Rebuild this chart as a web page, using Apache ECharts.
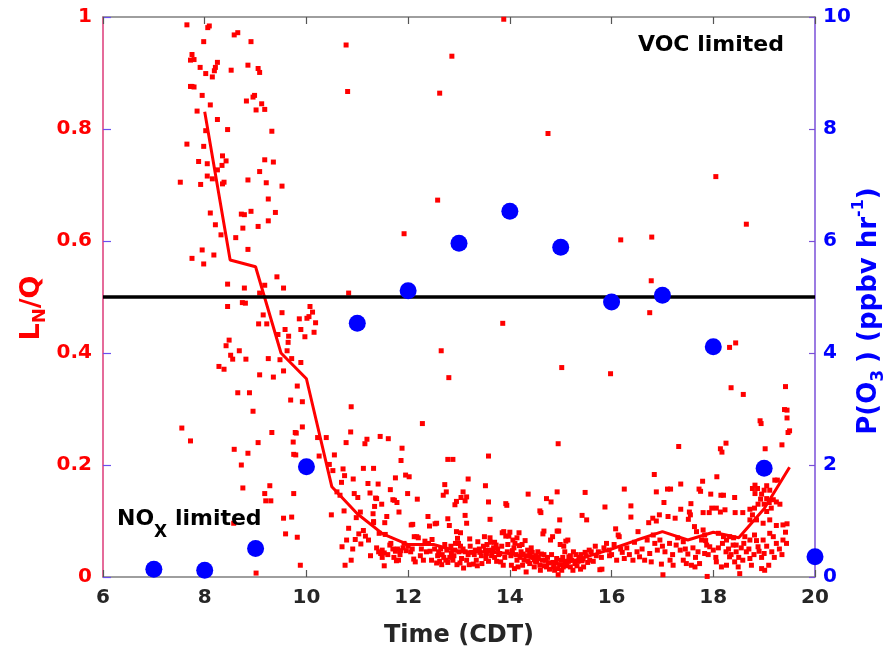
<!DOCTYPE html>
<html>
<head>
<meta charset="utf-8">
<script src="https://cdn.jsdelivr.net/npm/echarts@6/dist/echarts.min.js"></script>
<style>html,body{margin:0;padding:0;background:#fff}#c{width:893px;height:659px}</style>
</head>
<body>
<div id="c"></div>
<script>
// ---- Data ----
const timeTicks = [6, 8, 10, 12, 14, 16, 18, 20];
const lnqTicks = [0, 0.2, 0.4, 0.6, 0.8, 1];
const po3Ticks = [0, 2, 4, 6, 8, 10];

// hourly P(O3), ppbv/hr (right axis)
const po3Hours = [7, 8, 9, 10, 11, 12, 13, 14, 15, 16, 17, 18, 19, 20];
const po3Values = [0.14, 0.12, 0.51, 1.97, 4.53, 5.11, 5.96, 6.53, 5.89, 4.91, 5.03, 4.11, 1.94, 0.36];

// half-hourly mean LN/Q (left axis)
const meanHours = [8, 8.5, 9, 9.5, 10, 10.5, 11, 11.5, 12, 12.5, 13, 13.5, 14, 14.5, 15, 15.5, 16, 16.5, 17, 17.5, 18, 18.5, 19, 19.5];
const meanValues = [0.831, 0.566, 0.554, 0.400, 0.354, 0.161, 0.113, 0.077, 0.058, 0.058, 0.045, 0.045, 0.042, 0.033, 0.022, 0.036, 0.050, 0.066, 0.081, 0.066, 0.080, 0.070, 0.122, 0.196];

// individual LN/Q observations [time, LN/Q]
const lnqEarly = [
[7.65,0.986],[8.06,0.981],[8.09,0.984],[8.58,0.968],[8.65,0.972],[7.98,0.956],[8.91,0.956],[7.75,0.933],[7.72,0.923],[7.79,0.924],
[8.25,0.919],[7.91,0.910],[8.21,0.910],[8.19,0.904],[8.02,0.899],[8.15,0.893],[8.52,0.905],[8.85,0.914],[9.05,0.908],[9.08,0.901],
[7.72,0.876],[7.75,0.876],[7.79,0.875],[7.95,0.860],[8.11,0.843],[7.85,0.832],[8.82,0.850],[8.95,0.857],[8.98,0.860],[9.12,0.845],
[9.01,0.834],[9.18,0.835],[8.25,0.817],[8.45,0.799],[8.02,0.797],[9.32,0.796],[7.65,0.773],[7.98,0.769],[8.35,0.752],[8.42,0.743],
[8.34,0.735],[7.88,0.742],[8.05,0.738],[8.25,0.727],[9.18,0.745],[9.35,0.741],[9.08,0.724],[8.05,0.716],[8.15,0.711],[7.52,0.705],
[7.92,0.701],[8.35,0.702],[8.38,0.705],[8.85,0.709],[9.21,0.704],[9.52,0.698],[9.25,0.675],[8.11,0.650],[8.72,0.648],[8.78,0.647],
[8.91,0.653],[9.39,0.651],[8.21,0.629],[8.75,0.623],[9.25,0.636],[9.05,0.626],[8.32,0.611],[8.61,0.606],[7.95,0.584],[8.85,0.585],
[7.75,0.569],[8.18,0.575],[7.98,0.559],[9.42,0.536],[8.45,0.523],[8.78,0.516],[9.18,0.521],[9.55,0.516],[9.08,0.507],[8.45,0.483],
[8.74,0.490],[8.80,0.489],[10.07,0.483],[9.15,0.468],[9.52,0.472],[9.06,0.452],[9.22,0.452],[9.86,0.461],[10.01,0.462],[10.05,0.465],
[10.12,0.473],[10.18,0.454],[9.58,0.442],[9.89,0.442],[10.15,0.437],[9.44,0.433],[9.65,0.430],[9.97,0.429],[9.64,0.419],[8.48,0.423],
[8.42,0.413],[8.68,0.404],[8.51,0.396],[8.55,0.389],[8.81,0.389],[9.25,0.390],[9.62,0.404],[9.71,0.390],[9.48,0.388],[9.89,0.383],
[8.28,0.376],[8.38,0.371],[9.55,0.368],[9.08,0.361],[9.35,0.357],[9.82,0.341],[8.65,0.329],[8.88,0.329],[9.69,0.316],[9.92,0.313],
[8.95,0.296],[7.55,0.266],[7.72,0.243],[9.32,0.258],[9.92,0.268],[9.78,0.258],[9.80,0.257],[10.22,0.249],[10.39,0.249],[9.74,0.241],
[9.05,0.240],[8.58,0.228],[8.85,0.221],[9.75,0.219],[9.79,0.218],[10.25,0.216],[10.55,0.218],[8.72,0.200],[10.45,0.201],[10.52,0.190],
[10.72,0.193],[10.75,0.181],[10.69,0.169],[9.28,0.163],[8.75,0.159],[9.18,0.149],[9.75,0.149],[9.20,0.136],[9.30,0.136],[10.66,0.146],
[10.74,0.118],[10.49,0.111],[9.55,0.105],[9.71,0.107],[10.83,0.087],[8.57,0.096],[9.59,0.077],[9.82,0.071],[10.79,0.066],[10.70,0.054],
[9.88,0.021],[9.01,0.007],[10.76,0.021],[10.78,0.950],[10.81,0.867],[10.83,0.507]
];
const lnqMidday = [
[10.88,0.304],[12.28,0.274],[10.87,0.259],[10.78,0.240],[11.19,0.246],[11.15,0.238],[11.45,0.251],[11.61,0.247],[11.88,0.230],[11.86,0.208],
[12.78,0.210],[12.88,0.210],[13.58,0.216],[14.95,0.238],[11.12,0.194],[11.32,0.194],[10.92,0.175],[11.95,0.182],[12.02,0.179],[11.75,0.177],
[11.21,0.167],[11.41,0.166],[13.18,0.175],[12.72,0.165],[13.52,0.163],[14.93,0.152],[14.36,0.148],[15.48,0.151],[10.60,0.152],[10.94,0.149],
[11.01,0.142],[11.25,0.150],[11.65,0.156],[11.99,0.149],[11.36,0.141],[11.38,0.140],[11.70,0.138],[11.73,0.137],[12.18,0.139],[11.48,0.130],
[11.34,0.126],[11.78,0.133],[12.69,0.146],[12.75,0.152],[12.95,0.135],[12.92,0.129],[13.08,0.152],[13.04,0.142],[13.12,0.136],[13.15,0.143],
[13.58,0.134],[13.92,0.131],[13.94,0.128],[14.59,0.118],[14.61,0.115],[14.72,0.140],[14.81,0.134],[14.98,0.102],[15.42,0.110],[15.51,0.102],
[11.06,0.116],[11.31,0.113],[11.32,0.097],[11.58,0.108],[11.82,0.116],[10.98,0.106],[11.54,0.097],[12.39,0.108],[12.78,0.104],[13.12,0.110],
[13.61,0.103],[12.81,0.092],[13.15,0.096],[12.06,0.093],[12.09,0.094],[12.42,0.091],[12.53,0.095],[12.56,0.096],[11.12,0.083],[11.32,0.099],
[11.03,0.077],[10.96,0.067],[11.22,0.066],[11.16,0.073],[11.43,0.078],[11.55,0.076],[10.91,0.050],[11.07,0.059],[11.26,0.038],[10.88,0.030],
[11.38,0.052],[11.42,0.045],[11.46,0.042],[11.49,0.048],[11.53,0.043],[11.49,0.035],[11.53,0.020],[11.64,0.057],[11.70,0.050],[11.75,0.046],
[11.79,0.050],[11.85,0.047],[11.90,0.052],[11.96,0.047],[11.77,0.029],[11.81,0.030],[12.05,0.045],[12.11,0.032],[12.14,0.027],[12.12,0.072],
[12.17,0.072],[12.20,0.070],[12.24,0.038],[12.33,0.064],[12.43,0.046],[12.47,0.067],[12.56,0.025],[12.62,0.028],[12.67,0.040],[12.70,0.035],
[12.74,0.030],[12.78,0.026],[12.82,0.035],[12.85,0.042],[12.88,0.030],[12.97,0.069],[12.99,0.060],[12.93,0.060],[13.03,0.055],[13.00,0.045],
[12.95,0.081],[13.03,0.079],[13.21,0.068],[13.37,0.063],[13.50,0.072],[13.61,0.070],[13.55,0.058],[13.62,0.062],[13.70,0.062],[13.73,0.057],
[13.09,0.016],[13.20,0.022],[13.28,0.023],[13.34,0.030],[13.45,0.024],[13.53,0.033],[13.12,0.045],[13.25,0.044],[13.41,0.044],[13.54,0.042],
[13.66,0.045],[13.80,0.042],[13.85,0.079],[13.88,0.081],[14.00,0.080],[13.92,0.073],[13.98,0.073],[14.06,0.066],[14.14,0.070],[14.18,0.079],
[14.10,0.060],[14.30,0.065],[14.24,0.058],[14.19,0.056],[14.26,0.041],[14.33,0.038],[14.39,0.041],[14.46,0.035],[14.52,0.038],[14.62,0.041],
[14.67,0.040],[14.48,0.018],[14.53,0.027],[14.59,0.021],[14.72,0.018],[14.78,0.014],[14.88,0.012],[14.95,0.004],[13.82,0.027],[13.87,0.021],
[14.03,0.021],[14.09,0.015],[14.16,0.018],[14.25,0.021],[14.32,0.009],[14.39,0.024],[14.48,0.031],[14.65,0.077],[14.67,0.082],[14.80,0.066],
[14.84,0.072],[14.93,0.082],[14.96,0.082],[14.99,0.058],[15.06,0.055],[15.10,0.064],[15.14,0.066],[15.08,0.045],[15.19,0.038],[15.25,0.045],
[15.36,0.035],[15.42,0.029],[15.48,0.044],[15.05,0.018],[15.12,0.020],[15.19,0.018],[15.32,0.020],[15.39,0.014],[15.45,0.018],[15.53,0.026],
[12.60,0.045],[12.64,0.050],[12.72,0.058],[12.90,0.038],[12.96,0.022],[13.05,0.033],[13.15,0.030],[13.30,0.040],[13.40,0.050],[13.48,0.055],
[13.60,0.048],[13.70,0.035],[13.76,0.050],[13.95,0.045],[14.05,0.047],[14.12,0.040],[14.20,0.035],[14.35,0.048],[14.42,0.052],[14.55,0.045],
[14.70,0.030],[14.85,0.026],[14.92,0.033],[15.00,0.030],[15.15,0.028],[15.28,0.024],[15.40,0.040],
[12.86,0.930],[12.62,0.864],[13.88,0.996],[14.75,0.792],[12.58,0.673],[11.92,0.613],[13.86,0.453],[12.65,0.404],[12.80,0.356],[15.02,0.374]
];
const lnqDenseBand = [
[12.52,0.050],[12.58,0.038],[12.66,0.022],[12.76,0.048],[12.84,0.055],[12.92,0.048],[13.02,0.025],[13.08,0.050],[13.18,0.040],[13.22,0.055],
[13.32,0.048],[13.36,0.020],[13.44,0.038],[13.52,0.048],[13.58,0.028],[13.64,0.038],[13.68,0.052],[13.74,0.028],[13.78,0.040],[13.84,0.055],
[13.90,0.035],[13.96,0.058],[14.02,0.038],[14.08,0.052],[14.14,0.030],[14.22,0.045],[14.28,0.030],[14.36,0.028],[14.44,0.044],[14.50,0.028],
[14.56,0.035],[14.60,0.012],[14.64,0.030],[14.68,0.020],[14.74,0.035],[14.76,0.025],[14.82,0.040],[14.86,0.018],[14.90,0.025],[14.94,0.015],
[14.98,0.022],[15.02,0.012],[15.04,0.035],[15.08,0.028],[15.16,0.036],[15.22,0.030],[15.24,0.012],[15.30,0.040],[15.34,0.028],[15.44,0.032],
[15.50,0.038],[15.56,0.048],[15.64,0.028],[15.68,0.055],[15.74,0.045],[15.80,0.035],[15.90,0.060],[16.00,0.040],[16.10,0.030],[16.18,0.050],
[16.35,0.040],[16.50,0.045],[16.65,0.030],[16.85,0.060],[17.00,0.055],[17.15,0.030],[17.30,0.070],[17.45,0.050],[17.65,0.035],[17.85,0.065],
[18.05,0.035],[18.18,0.060],[18.30,0.050],[18.40,0.070],[18.50,0.035],[18.60,0.060],[18.70,0.050],[18.85,0.065],[18.95,0.035],[19.05,0.055],
[19.20,0.035],[19.35,0.040],[19.42,0.080],[11.60,0.040],[11.66,0.060],[11.72,0.035],[11.84,0.040],[11.92,0.060],[12.00,0.055],[12.08,0.050],
[12.26,0.050],[12.30,0.030],[12.36,0.045],[12.40,0.060],[12.46,0.030]
];
const lnqLate = [
[18.05,0.715],[16.18,0.602],[16.79,0.607],[18.65,0.630],[16.78,0.529],[16.75,0.472],[18.32,0.410],[18.44,0.418],[15.98,0.363],
[18.35,0.338],[18.59,0.326],[19.42,0.340],[19.40,0.299],[19.45,0.298],[19.45,0.284],[18.92,0.279],[18.94,0.274],[19.47,0.258],[19.50,0.261],
[18.25,0.239],[19.35,0.236],[18.14,0.229],[18.17,0.223],[17.32,0.233],[19.02,0.229],[16.84,0.183],[18.07,0.179],[16.25,0.157],[16.88,0.152],
[17.10,0.157],[17.16,0.157],[17.36,0.166],[17.72,0.157],[17.75,0.153],[17.79,0.171],[17.95,0.148],[18.15,0.146],[18.20,0.146],[18.42,0.142],
[18.82,0.164],[18.77,0.158],[18.87,0.158],[18.82,0.149],[19.05,0.163],[19.00,0.155],[18.95,0.148],[19.11,0.155],[19.21,0.173],[19.26,0.173],
[18.93,0.139],[19.05,0.140],[18.88,0.130],[19.00,0.130],[19.10,0.133],[19.18,0.138],[19.24,0.134],[19.31,0.130],[19.14,0.123],[19.05,0.117],
[15.87,0.125],[16.38,0.127],[17.03,0.133],[17.36,0.121],[17.53,0.116],[17.56,0.131],[17.80,0.115],[17.92,0.115],[17.97,0.123],[18.06,0.123],
[18.14,0.116],[18.23,0.120],[18.43,0.115],[18.58,0.115],[18.72,0.121],[18.81,0.123],[18.77,0.111],[18.72,0.102],[18.85,0.102],[18.98,0.096],
[19.11,0.102],[19.24,0.092],[19.37,0.093],[19.45,0.095],[16.38,0.107],[16.73,0.097],[16.81,0.105],[16.88,0.100],[16.94,0.111],[17.11,0.108],
[17.25,0.105],[17.51,0.103],[17.55,0.111],[16.08,0.086],[16.13,0.075],[16.15,0.072],[16.52,0.081],[16.82,0.075],[16.95,0.066],[17.14,0.060],
[17.27,0.057],[17.41,0.063],[17.63,0.090],[17.67,0.081],[17.80,0.084],[17.83,0.075],[17.77,0.066],[17.87,0.057],[17.93,0.054],[18.10,0.078],
[18.20,0.072],[18.26,0.066],[18.32,0.072],[18.39,0.057],[18.45,0.057],[18.62,0.072],[18.72,0.066],[18.81,0.075],[18.88,0.054],[18.98,0.066],
[19.11,0.078],[19.18,0.072],[19.24,0.060],[19.37,0.066],[19.44,0.060],
[15.57,0.030],[15.77,0.013],[15.81,0.014],[15.96,0.038],[16.21,0.044],[16.25,0.033],[16.42,0.030],[16.55,0.036],[16.75,0.042],[16.78,0.027],
[16.98,0.023],[17.01,0.004],[17.21,0.021],[17.41,0.030],[17.47,0.024],[17.57,0.021],[17.64,0.018],[17.73,0.024],[17.83,0.042],[17.88,0.001],
[18.06,0.027],[18.16,0.018],[18.26,0.021],[18.32,0.036],[18.42,0.027],[18.49,0.018],[18.52,0.006],[18.58,0.030],[18.72,0.033],[18.75,0.021],
[18.95,0.015],[19.01,0.012],[19.09,0.021],
[15.60,0.045],[15.70,0.038],[15.85,0.052],[15.95,0.048],[16.05,0.058],[16.30,0.052],[16.45,0.062],[16.60,0.050],[16.70,0.066],[16.90,0.048],
[17.05,0.045],[17.20,0.040],[17.35,0.048],[17.50,0.041],[17.60,0.052],[17.70,0.045],[17.90,0.040],[18.00,0.048],[18.10,0.052],[18.25,0.045],
[18.35,0.040],[18.45,0.045],[18.55,0.052],[18.65,0.045],[18.80,0.040],[18.90,0.046],[19.00,0.042],[19.15,0.045],[19.30,0.050]
];
const vocRegimeThreshold = 0.5;

// ---- Chart ----
const FONT = 'DejaVu Sans';
const chart = echarts.init(document.getElementById('c'), null, {renderer: 'canvas'});
const meanLine = meanHours.map((h, i) => [h, meanValues[i]]);
const po3Points = po3Hours.map((h, i) => [h, po3Values[i]]);
const dotStyle = {color: '#ff0000', opacity: 1};

const option = {
  backgroundColor: '#ffffff',
  animation: false,
  grid: {left: 103, right: 78, top: 17, bottom: 82, containLabel: false, outerBoundsMode: 'none'},
  xAxis: [{
    type: 'value', min: timeTicks[0], max: timeTicks[timeTicks.length - 1], interval: timeTicks[1] - timeTicks[0],
    position: 'bottom',
    name: 'Time (CDT)', nameLocation: 'middle', nameGap: 47, nameMoveOverlap: false,
    nameTextStyle: {fontFamily: FONT, fontWeight: 'bold', fontSize: 24, color: '#262626'},
    axisLine: {show: true, onZero: false, lineStyle: {color: '#7f7f7f', width: 1.5}},
    axisTick: {show: true, inside: true, length: 7, lineStyle: {color: '#555', width: 1.2}},
    axisLabel: {fontFamily: FONT, fontWeight: 'bold', fontSize: 20, color: '#262626', margin: 11},
    splitLine: {show: false}
  }, {
    type: 'value', min: timeTicks[0], max: timeTicks[timeTicks.length - 1], interval: timeTicks[1] - timeTicks[0],
    position: 'top',
    axisLine: {show: true, onZero: false, lineStyle: {color: '#7f7f7f', width: 1.5}},
    axisTick: {show: true, inside: true, length: 7, lineStyle: {color: '#555', width: 1.2}},
    axisLabel: {show: false},
    splitLine: {show: false}
  }],
  yAxis: [{
    type: 'value', min: lnqTicks[0], max: lnqTicks[lnqTicks.length - 1], interval: lnqTicks[1] - lnqTicks[0],
    position: 'left',
    name: '{a|L}{s|N}{a|/Q}', nameLocation: 'middle', nameRotate: 90, nameGap: 54, nameMoveOverlap: false,
    nameTextStyle: {
      fontFamily: FONT, fontWeight: 'bold', fontSize: 27, color: '#ff0000', padding: [0, 22, 0, 0],
      rich: {
        a: {fontFamily: FONT, fontWeight: 'bold', fontSize: 27, color: '#ff0000', lineHeight: 34},
        s: {fontFamily: FONT, fontWeight: 'bold', fontSize: 18, color: '#ff0000', lineHeight: 16, verticalAlign: 'bottom'}
      }
    },
    axisLine: {show: true, onZero: false, lineStyle: {color: '#dd3a78', width: 1.5}},
    axisTick: {show: true, inside: true, length: 8, lineStyle: {color: '#6a4ff0', width: 1.2}},
    axisLabel: {fontFamily: FONT, fontWeight: 'bold', fontSize: 20, color: '#ff0000', margin: 11},
    splitLine: {show: false}
  }, {
    type: 'value', min: po3Ticks[0], max: po3Ticks[po3Ticks.length - 1], interval: po3Ticks[1] - po3Ticks[0],
    position: 'right',
    name: '{a|P(O}{s|3}{a|) (ppbv hr}{p|-1}{a|)}', nameLocation: 'middle', nameRotate: 90, nameGap: 36, nameMoveOverlap: false,
    nameTextStyle: {
      fontFamily: FONT, fontWeight: 'bold', fontSize: 26, color: '#0000ff', padding: [0, 28, 0, 0],
      rich: {
        a: {fontFamily: FONT, fontWeight: 'bold', fontSize: 26, color: '#0000ff', lineHeight: 36},
        s: {fontFamily: FONT, fontWeight: 'bold', fontSize: 17, color: '#0000ff', lineHeight: 16, verticalAlign: 'bottom', padding: [0, 7, 0, 0]},
        p: {fontFamily: FONT, fontWeight: 'bold', fontSize: 16, color: '#0000ff', lineHeight: 14, verticalAlign: 'top'}
      }
    },
    axisLine: {show: true, onZero: false, lineStyle: {color: '#7a4fd8', width: 1.5}},
    axisTick: {show: true, inside: true, length: 6, lineStyle: {color: '#7a4fd8', width: 1.2}},
    axisLabel: {fontFamily: FONT, fontWeight: 'bold', fontSize: 20, color: '#0000ff', margin: 8},
    splitLine: {show: false}
  }],
  series: [
    {type: 'scatter', name: 'early', xAxisIndex: 0, yAxisIndex: 0, data: lnqEarly, symbol: 'rect', symbolSize: 5,
     itemStyle: dotStyle, z: 2, silent: true},
    {type: 'scatter', name: 'midday', xAxisIndex: 0, yAxisIndex: 0, data: lnqMidday, symbol: 'rect', symbolSize: 5,
     itemStyle: dotStyle, z: 2, silent: true},
    {type: 'scatter', name: 'band', xAxisIndex: 0, yAxisIndex: 0, data: lnqDenseBand, symbol: 'rect', symbolSize: 5,
     itemStyle: dotStyle, z: 2, silent: true},
    {type: 'scatter', name: 'late', xAxisIndex: 0, yAxisIndex: 0, data: lnqLate, symbol: 'rect', symbolSize: 5,
     itemStyle: dotStyle, z: 2, silent: true},
    {type: 'line', name: 'mean', xAxisIndex: 0, yAxisIndex: 0, data: meanLine, showSymbol: false, symbol: 'none',
     lineStyle: {color: '#ff0000', width: 3}, z: 3, silent: true,
     markLine: {silent: true, symbol: ['none', 'none'], label: {show: false},
       lineStyle: {color: '#000000', width: 3.5, type: 'solid'},
       data: [{yAxis: vocRegimeThreshold}]}},
    {type: 'scatter', name: 'PO3', xAxisIndex: 0, yAxisIndex: 1, data: po3Points, symbol: 'circle', symbolSize: 17,
     itemStyle: {color: '#0000ff', opacity: 1}, z: 5, clip: false, silent: true}
  ],
  graphic: [
    {type: 'text', left: 638, top: 34, z: 10, silent: true,
     style: {text: 'VOC limited', fontFamily: FONT, fontWeight: 'bold', fontSize: 22, fill: '#000000'}},
    {type: 'text', left: 117, top: 508, z: 10, silent: true,
     style: {text: '{a|NO}{s|X}{a| limited}', fontFamily: FONT, fontWeight: 'bold', fontSize: 22, fill: '#000000',
       rich: {
         a: {fontFamily: FONT, fontWeight: 'bold', fontSize: 22, fill: '#000000', lineHeight: 44},
         s: {fontFamily: FONT, fontWeight: 'bold', fontSize: 17, fill: '#000000', lineHeight: 14, verticalAlign: 'bottom'}
       }}}
  ]
};
chart.setOption(option);
</script>
</body>
</html>
